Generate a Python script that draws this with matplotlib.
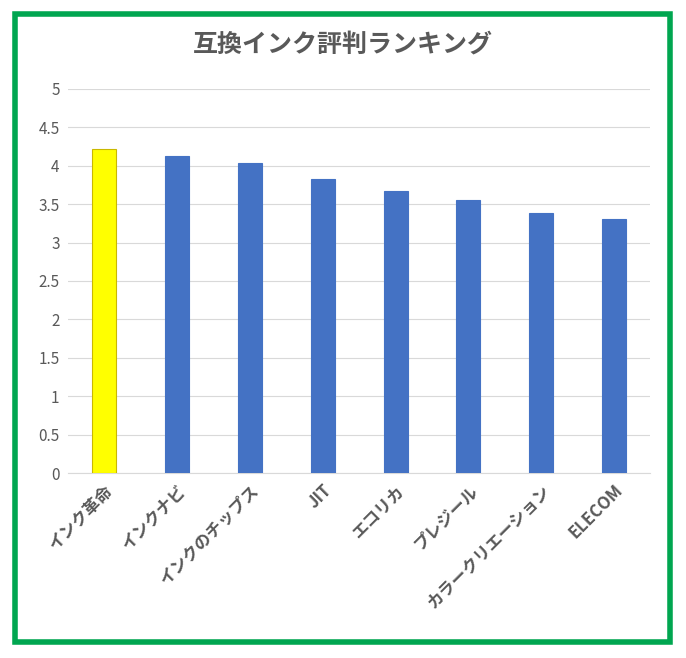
import matplotlib
matplotlib.use("Agg")
import matplotlib.pyplot as plt
from matplotlib.patches import Rectangle

categories = ["インク革命", "インクナビ", "インクのチップス", "JIT", "エコリカ", "プレジール", "カラークリエーション", "ELECOM"]
values = [4.22, 4.12, 4.04, 3.83, 3.67, 3.55, 3.39, 3.31]
yticks = [0, 0.5, 1, 1.5, 2, 2.5, 3, 3.5, 4, 4.5, 5]
colors = ["#FFFF00"] + ["#4472C4"] * 7
edges = ["#C9B800"] + ["#4472C4"] * 7

plt.rcParams['font.family'] = ['Noto Sans CJK JP', 'DejaVu Sans']
fig = plt.figure(figsize=(6.86, 6.58), dpi=100)
ax = fig.add_axes([0.099, 0.281, 0.849, 0.584])
x = range(len(categories))
ax.bar(x, values, width=0.33, color=colors, edgecolor=edges, linewidth=0.8, zorder=3)
ax.set_ylim(0, 5)
ax.set_xlim(-0.5, len(categories) - 0.5)
ax.set_yticks(yticks)
ax.set_yticklabels([f"{t:g}" for t in yticks], fontsize=11, color="#595959")
ax.set_xticks(list(x))
ax.set_xticklabels(categories, rotation=45, ha="right", rotation_mode="anchor",
                   fontsize=12, fontweight="bold", color="#595959")
ax.grid(axis="y", color="#D9D9D9", linewidth=0.8, zorder=0)
for s in ["top", "right", "left"]:
    ax.spines[s].set_visible(False)
ax.spines["bottom"].set_color("#D9D9D9")
ax.tick_params(length=0, pad=6)
fig.text(0.5, 0.932, "互換インク評判ランキング", ha="center", va="center",
         fontsize=18, fontweight="bold", color="#595959")
fig.patches.append(Rectangle((0.022, 0.024), 0.955, 0.955, transform=fig.transFigure,
                             fill=False, edgecolor="#00A650", linewidth=4))
fig.savefig("out.png", dpi=100)
